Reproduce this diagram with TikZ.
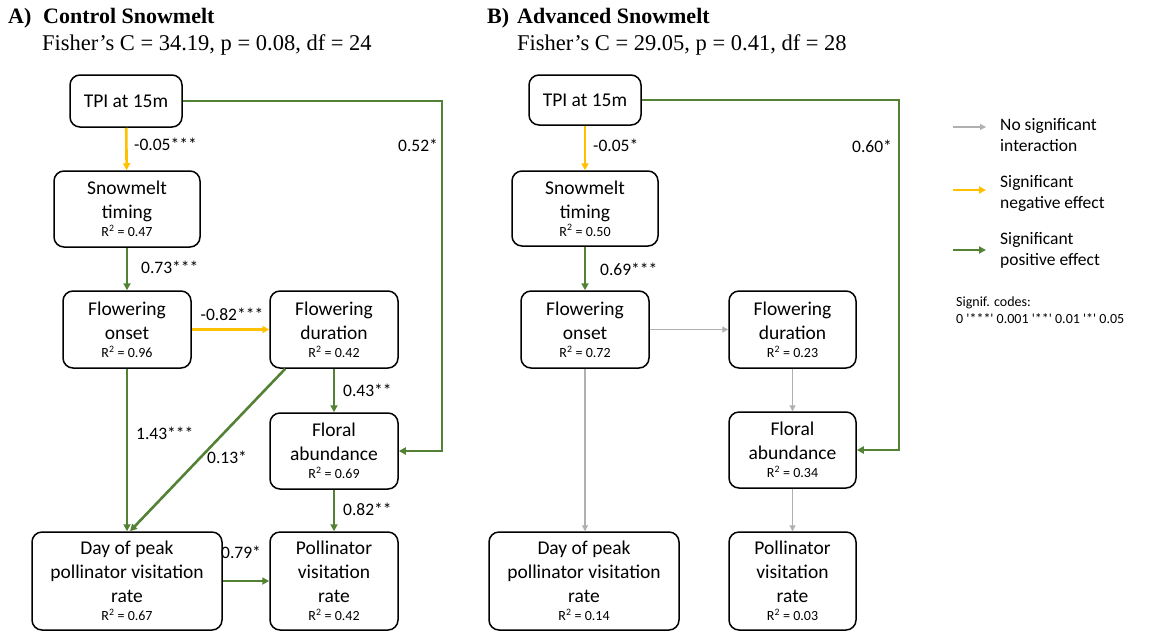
\documentclass[tikz,border=0pt]{standalone}
\usepackage{fontspec}
\setmainfont{Carlito}
\newfontfamily\timesf{Liberation Serif}
\newfontfamily\codef[Ligatures=TeXOff]{Carlito}
\usetikzlibrary{arrows.meta,calc}
\definecolor{pgreen}{HTML}{548235}
\definecolor{pyellow}{HTML}{FFC000}
\definecolor{pgray}{HTML}{B0B0B0}
\newcommand{\boxfont}{\fontsize{19.5}{24}\selectfont}
\newcommand{\rsqfont}{\fontsize{14}{16}\selectfont}
\newcommand{\labfont}{\fontsize{17.5}{21}\selectfont}
\newcommand{\rsq}[1]{\\[-6pt]{\rsqfont R\textsuperscript{2} = #1}}
\begin{document}
\begin{tikzpicture}[x=1pt,y=-1pt,
  box/.style={draw=black,line width=1.5pt,rounded corners=10pt,align=center,inner sep=0pt,font=\boxfont},
  posarr/.style={draw=pgreen,line width=2.6pt,-{Triangle[length=7pt,width=7pt]}},
  negarr/.style={draw=pyellow,line width=2.6pt,-{Triangle[length=7pt,width=7pt]}},
  nsigarr/.style={draw=pgray,line width=1.1pt,-{Triangle[length=6pt,width=6pt]}},
  lab/.style={font=\labfont,inner sep=0pt},
  ttl/.style={font=\timesf\fontsize{22}{26}\selectfont\bfseries,inner sep=0pt,anchor=base west},
  subttl/.style={font=\timesf\fontsize{22.5}{26}\selectfont,inner sep=0pt,anchor=base west},
  leg/.style={font=\labfont,align=left,inner sep=0pt,anchor=west}]
\useasboundingbox (0,0) rectangle (1150,633);

% ---------- Titles ----------
\node[ttl] (ta) at (8,23) {A)};
\node[ttl] (tat) at (43,23) {Control Snowmelt};
\node[subttl] (tas) at (42,50) {Fisher’s C = 34.19, p = 0.08, df = 24};
\node[ttl] (tb) at (487,23) {B)};
\node[ttl] (tbt) at (517,23) {Advanced Snowmelt};
\node[subttl] (tbs) at (517,50) {Fisher’s C = 29.05, p = 0.41, df = 28};

% ---------- Panel A ----------
\node[box,minimum width=112pt,minimum height=52pt] (tA) at (126,101) {TPI at 15m};
\node[box,minimum width=146pt,minimum height=76pt] (sA) at (127,209) {Snowmelt\\timing\rsq{0.47}};
\node[box,minimum width=128pt,minimum height=77pt] (oA) at (127,329.5) {Flowering\\onset\rsq{0.96}};
\node[box,minimum width=128pt,minimum height=77pt] (dA) at (334,329.5) {Flowering\\duration\rsq{0.42}};
\node[box,minimum width=128pt,minimum height=76pt] (fA) at (334,451) {Floral\\abundance\rsq{0.69}};
\node[box,minimum width=190pt,minimum height=98pt] (yA) at (127,581) {Day of peak\\pollinator visitation\\rate\rsq{0.67}};
\node[box,minimum width=128pt,minimum height=98pt] (pA) at (334,581) {Pollinator\\visitation\\rate\rsq{0.42}};
\coordinate (cA) at (442,101);

\draw[negarr] (tA) -- (sA);
\draw[posarr] (sA) -- (oA);
\draw[negarr] (oA) -- (dA);
\draw[posarr] (dA) -- (fA);
\draw[posarr] (oA) -- (yA);
\draw[posarr] ($(dA.south west)+(16,0)$) -- ($(yA.north)+(3,0)$);
\draw[posarr] (fA) -- (pA);
\draw[posarr] (yA) -- (pA);
\draw[posarr] (tA.east) -- (cA) |- (fA.east);

\node[lab,anchor=west] (l1) at (134,144) {-0.05***};
\node[lab] (l2) at (418,145) {0.52*};
\node[lab,anchor=west] (l3) at (141,267) {0.73***};
\node[lab] (l4) at (232,314) {-0.82***};
\node[lab,anchor=west] (l5) at (343,390) {0.43**};
\node[lab,anchor=west] (l6) at (136,433) {1.43***};
\node[lab] (l7) at (227,457) {0.13*};
\node[lab,anchor=west] (l8) at (343,509) {0.82**};
\node[lab] (l9) at (241,552) {0.79*};

% ---------- Panel B ----------
\node[box,minimum width=112pt,minimum height=50pt] (tB) at (585,100) {TPI at 15m};
\node[box,minimum width=146pt,minimum height=75pt] (sB) at (585,208.5) {Snowmelt\\timing\rsq{0.50}};
\node[box,minimum width=128pt,minimum height=77pt] (oB) at (585,329.5) {Flowering\\onset\rsq{0.72}};
\node[box,minimum width=127pt,minimum height=77pt] (dB) at (792.5,329.5) {Flowering\\duration\rsq{0.23}};
\node[box,minimum width=127pt,minimum height=76pt] (fB) at (792.5,450) {Floral\\abundance\rsq{0.34}};
\node[box,minimum width=190pt,minimum height=98pt] (yB) at (584,581) {Day of peak\\pollinator visitation\\rate\rsq{0.14}};
\node[box,minimum width=127pt,minimum height=98pt] (pB) at (792.5,581) {Pollinator\\visitation\\rate\rsq{0.03}};
\coordinate (cB) at (899,100);

\draw[negarr] (tB) -- (sB);
\draw[posarr] (sB) -- (oB);
\draw[nsigarr] (oB) -- (dB);
\draw[nsigarr] (dB) -- (fB);
\draw[nsigarr] (oB.south) -- (oB.south |- yB.north);
\draw[nsigarr] (fB) -- (pB);
\draw[posarr] (tB.east) -- (cB) |- (fB.east);

\node[lab,anchor=west] (m1) at (593,145) {-0.05*};
\node[lab] (m2) at (872,146) {0.60*};
\node[lab,anchor=west] (m3) at (600,269) {0.69***};

% ---------- Legend ----------
\coordinate (g1) at (953,127); \coordinate (g2) at (986,127);
\coordinate (y1) at (953,190); \coordinate (y2) at (986,190);
\coordinate (p1) at (953,250); \coordinate (p2) at (986,250);
\draw[nsigarr] (g1) -- (g2);
\draw[negarr] (y1) -- (y2);
\draw[posarr] (p1) -- (p2);
\node[leg] (lg1) at (1000,135) {No significant\\interaction};
\node[leg] (lg2) at (1000,193) {Significant\\negative effect};
\node[leg] (lg3) at (1000,250) {Significant\\positive effect};
\node[leg,font=\codef\fontsize{14}{16.5}\selectfont] (lg4) at (956,310) {Signif. codes:\\0 '***' 0.001 '**' 0.01 '*' 0.05};
\end{tikzpicture}
\end{document}
